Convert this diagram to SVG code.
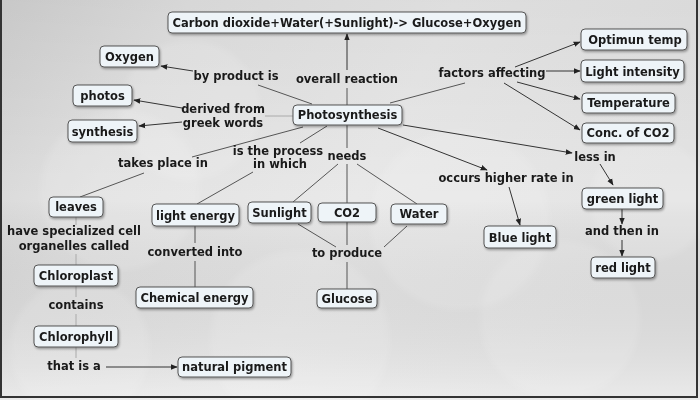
<svg xmlns="http://www.w3.org/2000/svg" width="700" height="400" viewBox="0 0 700 400">
<defs>
<linearGradient id="bg" x1="0" y1="0" x2="1" y2="0.3">
<stop offset="0" stop-color="#d2d2d2"/>
<stop offset="0.25" stop-color="#e2e2e2"/>
<stop offset="0.6" stop-color="#e9e9e9"/>
<stop offset="1" stop-color="#e4e4e4"/>
</linearGradient>
<linearGradient id="bgv" x1="0" y1="0" x2="0" y2="1">
<stop offset="0" stop-color="#000" stop-opacity="0.05"/>
<stop offset="0.5" stop-color="#000" stop-opacity="0"/>
<stop offset="1" stop-color="#fff" stop-opacity="0.25"/>
</linearGradient>
<filter id="sh" x="-10%" y="-20%" width="130%" height="160%">
<feDropShadow dx="1" dy="1.5" stdDeviation="0.8" flood-color="#000" flood-opacity="0.35"/>
</filter>
<filter id="blur" x="-20%" y="-20%" width="140%" height="140%">
<feGaussianBlur stdDeviation="3"/>
</filter>
<marker id="ah" viewBox="0 0 10 10" refX="9" refY="5" markerWidth="7" markerHeight="7" markerUnits="userSpaceOnUse" orient="auto">
<path d="M0,1 L10,5 L0,9 z" fill="#222"/>
</marker>
<style>
.box{fill:#eef4f8;stroke:#555;stroke-width:1;filter:url(#sh)}
text{font-family:"DejaVu Sans","Liberation Sans",sans-serif;font-weight:bold;font-size:11.5px;fill:#1a1a1a;text-anchor:middle}
.c{fill:none;stroke:#555;stroke-width:1}
.l{fill:none;stroke:#aaa;stroke-width:1}
.a{fill:none;stroke:#333;stroke-width:1;marker-end:url(#ah)}
.cloud{fill:#fff;opacity:0.12}
</style>
</defs>
<rect width="700" height="400" fill="url(#bg)"/>
<rect width="700" height="400" fill="url(#bgv)"/>
<g id="clouds" filter="url(#blur)">
<circle class="cloud" cx="190" cy="110" r="70"/>
<circle class="cloud" cx="120" cy="190" r="80"/>
<circle class="cloud" cx="460" cy="220" r="90"/>
<circle class="cloud" cx="560" cy="320" r="80"/>
<circle class="cloud" cx="300" cy="340" r="90"/>
<circle class="cloud" cx="80" cy="350" r="70"/>
<circle class="cloud" cx="650" cy="200" r="60"/>
</g>
<path d="M1,0 V397 H697 V0" fill="none" stroke="#333" stroke-width="2"/>

<g id="connectors">
<line class="a" x1="347" y1="70" x2="347" y2="34"/>
<line class="c" x1="347" y1="88" x2="347" y2="105"/>
<line class="c" x1="312" y1="104" x2="258" y2="85"/>
<line class="a" x1="193" y1="71" x2="161" y2="66"/>
<line class="l" x1="293" y1="116" x2="265" y2="116"/>
<line class="a" x1="182" y1="108" x2="134" y2="100"/>
<line class="a" x1="182" y1="122" x2="139" y2="126"/>
<line class="c" x1="390" y1="103" x2="465" y2="83"/>
<line class="a" x1="515" y1="67" x2="580" y2="42"/>
<line class="a" x1="546" y1="71" x2="580" y2="71"/>
<line class="a" x1="517" y1="82" x2="580" y2="99"/>
<line class="a" x1="504" y1="83" x2="580" y2="130"/>
<line class="a" x1="403" y1="125" x2="572" y2="153"/>
<line class="a" x1="600" y1="164" x2="613" y2="185"/>
<line class="a" x1="378" y1="128" x2="487" y2="170"/>
<line class="a" x1="509" y1="187" x2="520" y2="225"/>
<line class="a" x1="622" y1="209" x2="622" y2="224"/>
<line class="a" x1="622" y1="240" x2="622" y2="256"/>
<line class="c" x1="303" y1="127" x2="192" y2="157"/>
<line class="c" x1="144" y1="173" x2="80" y2="197"/>
<line class="c" x1="327" y1="126" x2="300" y2="143"/>
<line class="c" x1="253" y1="172" x2="197" y2="204"/>
<line class="c" x1="347" y1="125" x2="347" y2="148"/>
<line class="c" x1="338" y1="164" x2="293" y2="202"/>
<line class="c" x1="347" y1="164" x2="347" y2="203"/>
<line class="c" x1="357" y1="164" x2="417" y2="204"/>
<line class="c" x1="298" y1="224" x2="336" y2="247"/>
<line class="c" x1="347" y1="222" x2="347" y2="245"/>
<line class="c" x1="407" y1="226" x2="384" y2="247"/>
<line class="c" x1="347" y1="262" x2="347" y2="289"/>
<line class="l" x1="76" y1="217" x2="76" y2="225"/>
<line class="l" x1="76" y1="254" x2="76" y2="265"/>
<line class="l" x1="76" y1="286" x2="76" y2="297"/>
<line class="l" x1="76" y1="314" x2="76" y2="326"/>
<line class="l" x1="76" y1="347" x2="76" y2="358"/>
<line class="a" x1="106" y1="367" x2="177" y2="367"/>
<line class="c" x1="195" y1="226" x2="195" y2="243"/>
<line class="c" x1="195" y1="261" x2="195" y2="287"/>
</g>

<g id="n-carbon"><rect class="box" x="168" y="12" width="358" height="21" rx="4"/><text x="347" y="27">Carbon dioxide+Water(+Sunlight)-&gt; Glucose+Oxygen</text></g>
<g id="n-oxygen"><rect class="box" x="100" y="46" width="59" height="21" rx="4"/><text x="129.5" y="61">Oxygen</text></g>
<g id="n-photos"><rect class="box" x="73" y="85" width="59" height="21" rx="4"/><text x="102.5" y="100">photos</text></g>
<g id="n-synthesis"><rect class="box" x="68" y="120" width="69" height="22" rx="4"/><text x="102.5" y="135.5">synthesis</text></g>
<g id="n-photosynthesis"><rect class="box" x="293" y="105" width="109" height="20" rx="4"/><text x="347.5" y="119">Photosynthesis</text></g>
<g id="n-optimun"><rect class="box" x="581" y="29" width="106" height="21" rx="4"/><text x="635" y="44">Optimun temp</text></g>
<g id="n-lightint"><rect class="box" x="581" y="60" width="103" height="22" rx="4"/><text x="632.5" y="75.5">Light intensity</text></g>
<g id="n-temperature"><rect class="box" x="582" y="93" width="93" height="20" rx="4"/><text x="628.5" y="107">Temperature</text></g>
<g id="n-conc"><rect class="box" x="582" y="123" width="92" height="20" rx="4"/><text x="628" y="137">Conc. of CO2</text></g>
<g id="n-leaves"><rect class="box" x="49" y="197" width="54" height="20" rx="4"/><text x="76" y="211">leaves</text></g>
<g id="n-lightenergy"><rect class="box" x="152" y="204" width="87" height="22" rx="4"/><text x="195.5" y="219.5">light energy</text></g>
<g id="n-sunlight"><rect class="box" x="248" y="202" width="63" height="21" rx="4"/><text x="279.5" y="217">Sunlight</text></g>
<g id="n-co2"><rect class="box" x="318" y="203" width="58" height="19" rx="4"/><text x="347" y="217">CO2</text></g>
<g id="n-water"><rect class="box" x="391" y="204" width="56" height="20" rx="4"/><text x="419" y="218">Water</text></g>
<g id="n-bluelight"><rect class="box" x="484" y="226" width="72" height="22" rx="4"/><text x="520" y="241.5">Blue light</text></g>
<g id="n-greenlight"><rect class="box" x="582" y="188" width="81" height="21" rx="4"/><text x="622.5" y="203">green light</text></g>
<g id="n-redlight"><rect class="box" x="591" y="257" width="64" height="21" rx="4"/><text x="623" y="272">red light</text></g>
<g id="n-chloroplast"><rect class="box" x="34" y="265" width="84" height="21" rx="4"/><text x="76" y="280">Chloroplast</text></g>
<g id="n-chemical"><rect class="box" x="136" y="287" width="117" height="21" rx="4"/><text x="194.5" y="302">Chemical energy</text></g>
<g id="n-glucose"><rect class="box" x="317" y="289" width="60" height="19" rx="4"/><text x="347" y="303">Glucose</text></g>
<g id="n-chlorophyll"><rect class="box" x="34" y="326" width="84" height="21" rx="4"/><text x="76" y="341">Chlorophyll</text></g>
<g id="n-pigment"><rect class="box" x="178" y="357" width="113" height="20" rx="4"/><text x="234.5" y="371">natural pigment</text></g>

<g id="l-byproduct"><text x="236" y="80">by product is</text></g>
<g id="l-overall"><text x="347" y="83">overall reaction</text></g>
<g id="l-derived"><text x="223" y="113">derived from</text><text x="223" y="127">greek words</text></g>
<g id="l-factors"><text x="492" y="77">factors affecting</text></g>
<g id="l-takes"><text x="163" y="167">takes place in</text></g>
<g id="l-process"><text x="278" y="155">is the process</text><text x="280" y="168">in which</text></g>
<g id="l-needs"><text x="347" y="160">needs</text></g>
<g id="l-occurs"><text x="506" y="182">occurs higher rate in</text></g>
<g id="l-lessin"><text x="595" y="161">less in</text></g>
<g id="l-andthen"><text x="622" y="235">and then in</text></g>
<g id="l-specialized"><text x="74" y="235">have specialized cell</text><text x="74" y="250">organelles called</text></g>
<g id="l-converted"><text x="195" y="256">converted into</text></g>
<g id="l-produce"><text x="347" y="257">to produce</text></g>
<g id="l-contains"><text x="76" y="309">contains</text></g>
<g id="l-thatis"><text x="74" y="370">that is a</text></g>
</svg>
